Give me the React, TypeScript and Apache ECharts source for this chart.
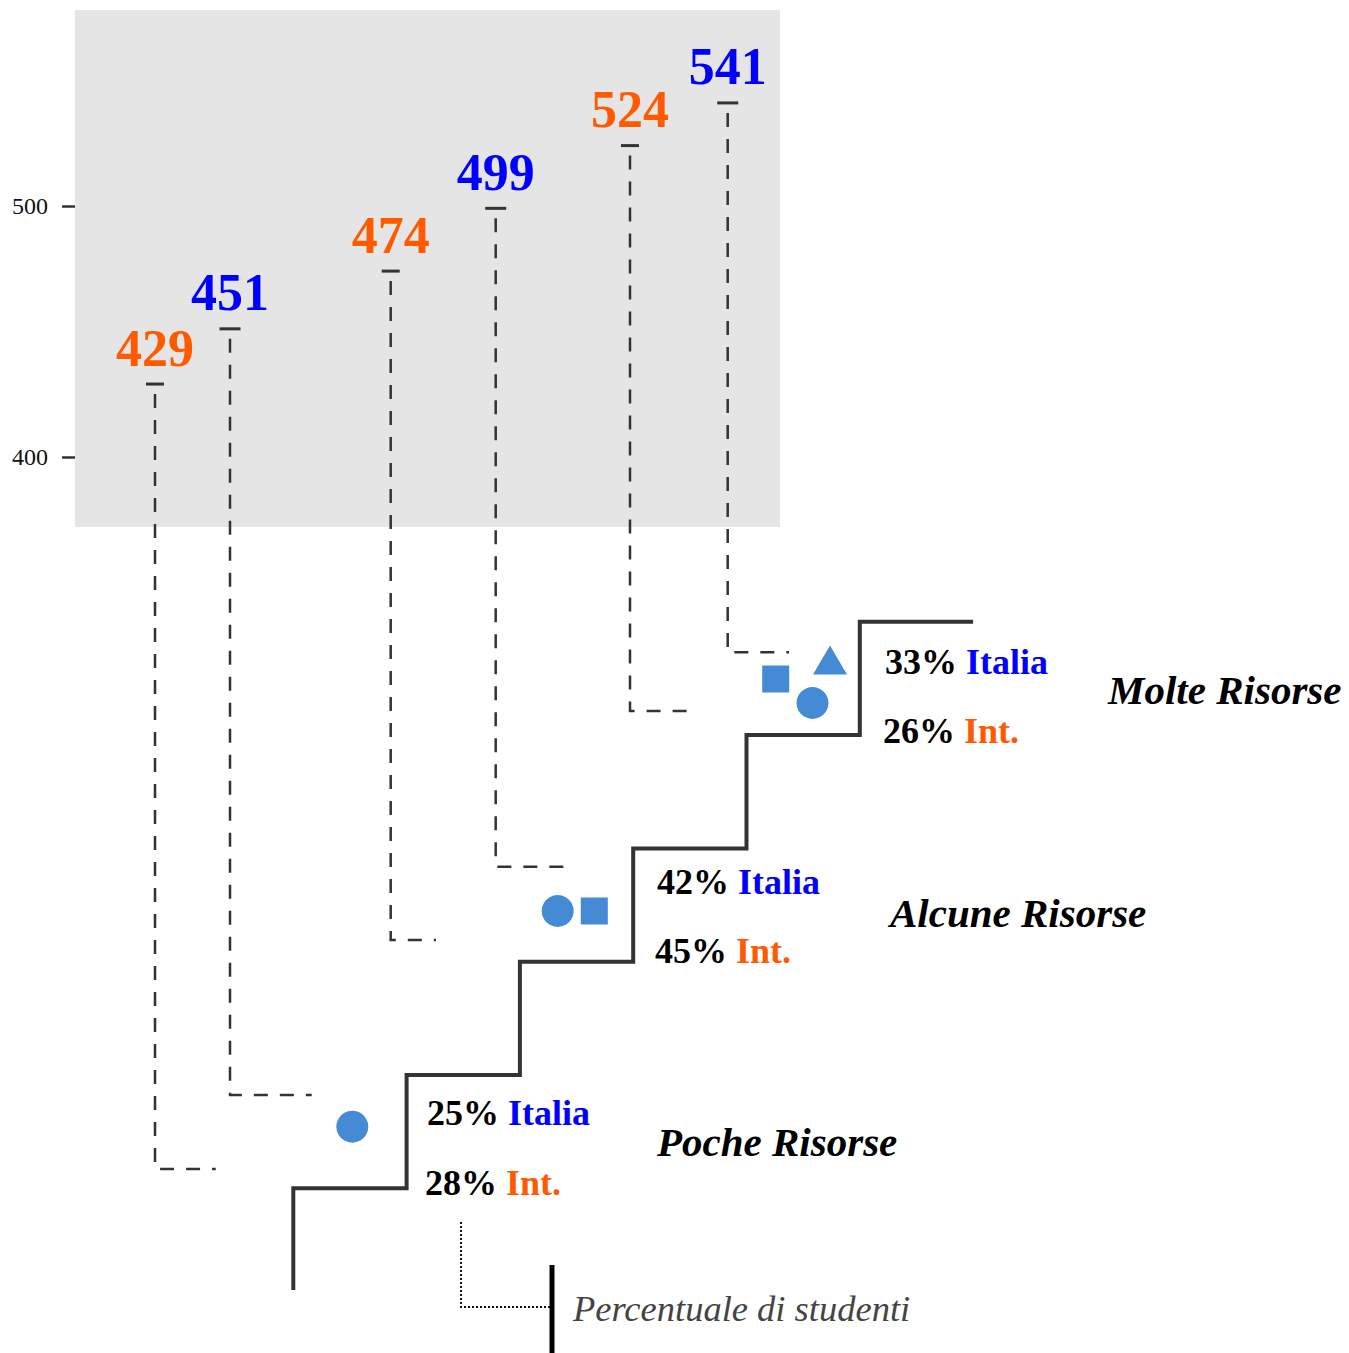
import React, { useEffect, useRef } from "react";
import * as echarts from "echarts";

// ---------- DATA ----------
const categories = ["Poche Risorse", "Alcune Risorse", "Molte Risorse"];
const scoresInt = [429, 474, 524];
const scoresItalia = [451, 499, 541];
const pctItalia = [25, 42, 33];
const pctInt = [28, 45, 26];
const scoreAxisTicks = [400, 500];
const groupNames = ["Italia", "Int."];
const resourceIcons = [["circle"], ["circle", "rect"], ["rect", "triangle", "circle"]];

// ---------- LAYOUT (layout axis units == page pixels) ----------
const W = 1349;
const H = 1353;
const PANEL = { x0: 75, x1: 780, y0: 10, y1: 527 };
const SCORE_MIN = 43;
const SCORE_MAX = 582;
const STEP = 113.3;
const STAIR_X0 = 293.3;
const STAIR_Y0 = 1188.3;
const STAIR_BOTTOM = 1290;
const tickXInt = [155, 390.7, 630];
const tickXItalia = [230, 495.7, 727.7];
const connBottomInt = [1169, 940, 711];
const connBottomItalia = [1095, 866.7, 652.3];
const connEndInt = [215.7, 436, 693];
const connEndItalia = [311.7, 565, 789];
const iconPos = [
  [[352.3, 1126.7]],
  [[557.7, 911], [594.3, 911]],
  [[775.7, 679], [830, 660], [812.5, 703]],
];
const pctPosItalia = [[427, 1113], [657, 882], [885, 662]];
const pctPosInt = [[425, 1183], [655, 951], [883, 731]];
const catPos = [[657, 1142], [890, 913], [1108, 690]];

// ---------- STYLE ----------
const BLUE = "#0000ff";
const ORANGE = "#ff5a00";
const DARK = "#333333";
const ICON = "#448ad5";
const FONT = '"Liberation Serif", "DejaVu Serif", serif';

export default function App() {
  const ref = useRef<HTMLDivElement>(null);

  useEffect(() => {
    if (!ref.current) return;
    const chart = echarts.init(ref.current, undefined, { renderer: "svg" });

    // staircase geometry
    const stair: number[][] = [[STAIR_X0, STAIR_BOTTOM]];
    for (let k = 0; k < 6; k++) {
      const x = STAIR_X0 + k * STEP;
      const y = STAIR_Y0 - k * STEP;
      stair.push([x, y]);
      stair.push([x + STEP, y]);
    }

    const scoreData: any[] = [];
    categories.forEach((_, i) => {
      scoreData.push([tickXInt[i], scoresInt[i], connBottomInt[i], connEndInt[i], 0]);
      scoreData.push([tickXItalia[i], scoresItalia[i], connBottomItalia[i], connEndItalia[i], 1]);
    });

    const iconData: any[] = [];
    resourceIcons.forEach((icons, i) => {
      icons.forEach((sym, j) => {
        iconData.push({
          value: iconPos[i][j],
          symbol: sym,
          symbolSize: sym === "circle" ? 32 : sym === "rect" ? 27 : [34, 29],
        });
      });
    });

    const pctData: any[] = [];
    categories.forEach((_, i) => {
      pctData.push({ value: pctPosItalia[i], name: `{n|${pctItalia[i]}%} {b|${groupNames[0]}}` });
      pctData.push({ value: pctPosInt[i], name: `{n|${pctInt[i]}%} {o|${groupNames[1]}}` });
    });

    const catData = categories.map((c, i) => ({ value: catPos[i], name: c }));

    const option: any = {
      animation: false,
      grid: { left: PANEL.x0, top: 0, right: 0, bottom: 0, containLabel: false },
      xAxis: { type: "value", min: PANEL.x0, max: W, show: false },
      yAxis: [
        {
          type: "value",
          min: SCORE_MIN,
          max: SCORE_MAX,
          position: "left",
          axisLine: { show: false },
          splitLine: { show: false },
          axisTick: {
            show: true,
            length: 13,
            customValues: scoreAxisTicks,
            lineStyle: { color: DARK, width: 2.5 },
          },
          axisLabel: {
            customValues: scoreAxisTicks,
            margin: 27,
            fontFamily: FONT,
            fontSize: 24,
            color: "#111",
          },
        },
        { type: "value", min: 0, max: H, inverse: true, show: false },
      ],
      series: [
        {
          type: "line",
          yAxisIndex: 1,
          data: stair,
          symbol: "none",
          lineStyle: { color: DARK, width: 4, join: "miter", cap: "butt" },
          z: 3,
          silent: true,
          markArea: {
            silent: true,
            itemStyle: { color: "#e5e5e5" },
            label: { show: false },
            data: [[{ coord: [PANEL.x0, PANEL.y0] }, { coord: [PANEL.x1, PANEL.y1] }]],
          },
        },
        {
          type: "custom",
          yAxisIndex: 0,
          data: scoreData,
          z: 4,
          silent: true,
          renderItem: (params: any, api: any) => {
            const x = api.value(0);
            const s = api.value(1);
            const by = api.value(2);
            const ex = api.value(3);
            const g = api.value(4);
            const cs = params.coordSys;
            const toPxY = (v: number) => cs.y + (v / H) * cs.height;
            const p = api.coord([x, s]);
            const exPx = api.coord([ex, s])[0];
            const byPx = toPxY(by);
            const tw = g === 0 ? 18 : 21;
            return {
              type: "group",
              children: [
                {
                  type: "line",
                  shape: { x1: p[0] - tw / 2, y1: p[1], x2: p[0] + tw / 2, y2: p[1] },
                  style: { stroke: DARK, lineWidth: 3 },
                },
                {
                  type: "polyline",
                  shape: { points: [[p[0], p[1] + 10], [p[0], byPx], [exPx, byPx]] },
                  style: { stroke: DARK, lineWidth: 2.5, lineDash: [14, 12], fill: null },
                },
                {
                  type: "text",
                  style: {
                    text: String(s),
                    x: p[0],
                    y: p[1] - 36,
                    align: "center",
                    verticalAlign: "middle",
                    textAlign: "center",
                    textVerticalAlign: "middle",
                    font: `bold 52px ${FONT}`,
                    fill: g === 0 ? ORANGE : BLUE,
                  },
                },
              ],
            };
          },
        },
        {
          type: "scatter",
          yAxisIndex: 1,
          data: iconData,
          itemStyle: { color: ICON, opacity: 1 },
          z: 4,
          silent: true,
        },
        {
          type: "scatter",
          yAxisIndex: 1,
          data: pctData,
          symbolSize: 0,
          itemStyle: { opacity: 1 },
          z: 5,
          silent: true,
          label: {
            show: true,
            position: [0, 0],
            align: "left",
            verticalAlign: "middle",
            formatter: "{b}",
            opacity: 1,
            rich: {
              n: { fontFamily: FONT, fontSize: 36, fontWeight: "bold", color: "#000" },
              b: { fontFamily: FONT, fontSize: 36, fontWeight: "bold", color: BLUE },
              o: { fontFamily: FONT, fontSize: 36, fontWeight: "bold", color: ORANGE },
            },
            fontFamily: FONT,
            fontSize: 36,
            fontWeight: "bold",
            color: "#000",
          },
        },
        {
          type: "scatter",
          yAxisIndex: 1,
          data: catData,
          symbolSize: 0,
          itemStyle: { opacity: 1 },
          z: 5,
          silent: true,
          label: {
            show: true,
            position: [0, 0],
            align: "left",
            verticalAlign: "middle",
            formatter: "{b}",
            opacity: 1,
            fontFamily: FONT,
            fontSize: 41,
            fontWeight: "bold",
            fontStyle: "italic",
            color: "#000",
          },
        },
      ],
      graphic: [
        {
          type: "polyline",
          shape: { points: [[461, 1222], [461, 1307], [550, 1307]] },
          style: { stroke: "#111", lineWidth: 2, lineDash: [2, 2], fill: null },
          silent: true,
        },
        {
          type: "line",
          shape: { x1: 552, y1: 1265, x2: 552, y2: 1353 },
          style: { stroke: "#000", lineWidth: 5 },
          silent: true,
        },
        {
          type: "text",
          x: 573,
          y: 1308,
          style: {
            text: "Percentuale di studenti",
            font: `italic 36.5px ${FONT}`,
            fill: "#444",
            textAlign: "left",
            textVerticalAlign: "middle",
          },
          silent: true,
        },
      ],
    };

    chart.setOption(option);
    return () => chart.dispose();
  }, []);

  return (
    <div
      ref={ref}
      style={{ position: "absolute", left: 0, top: 0, width: W, height: H }}
    />
  );
}
